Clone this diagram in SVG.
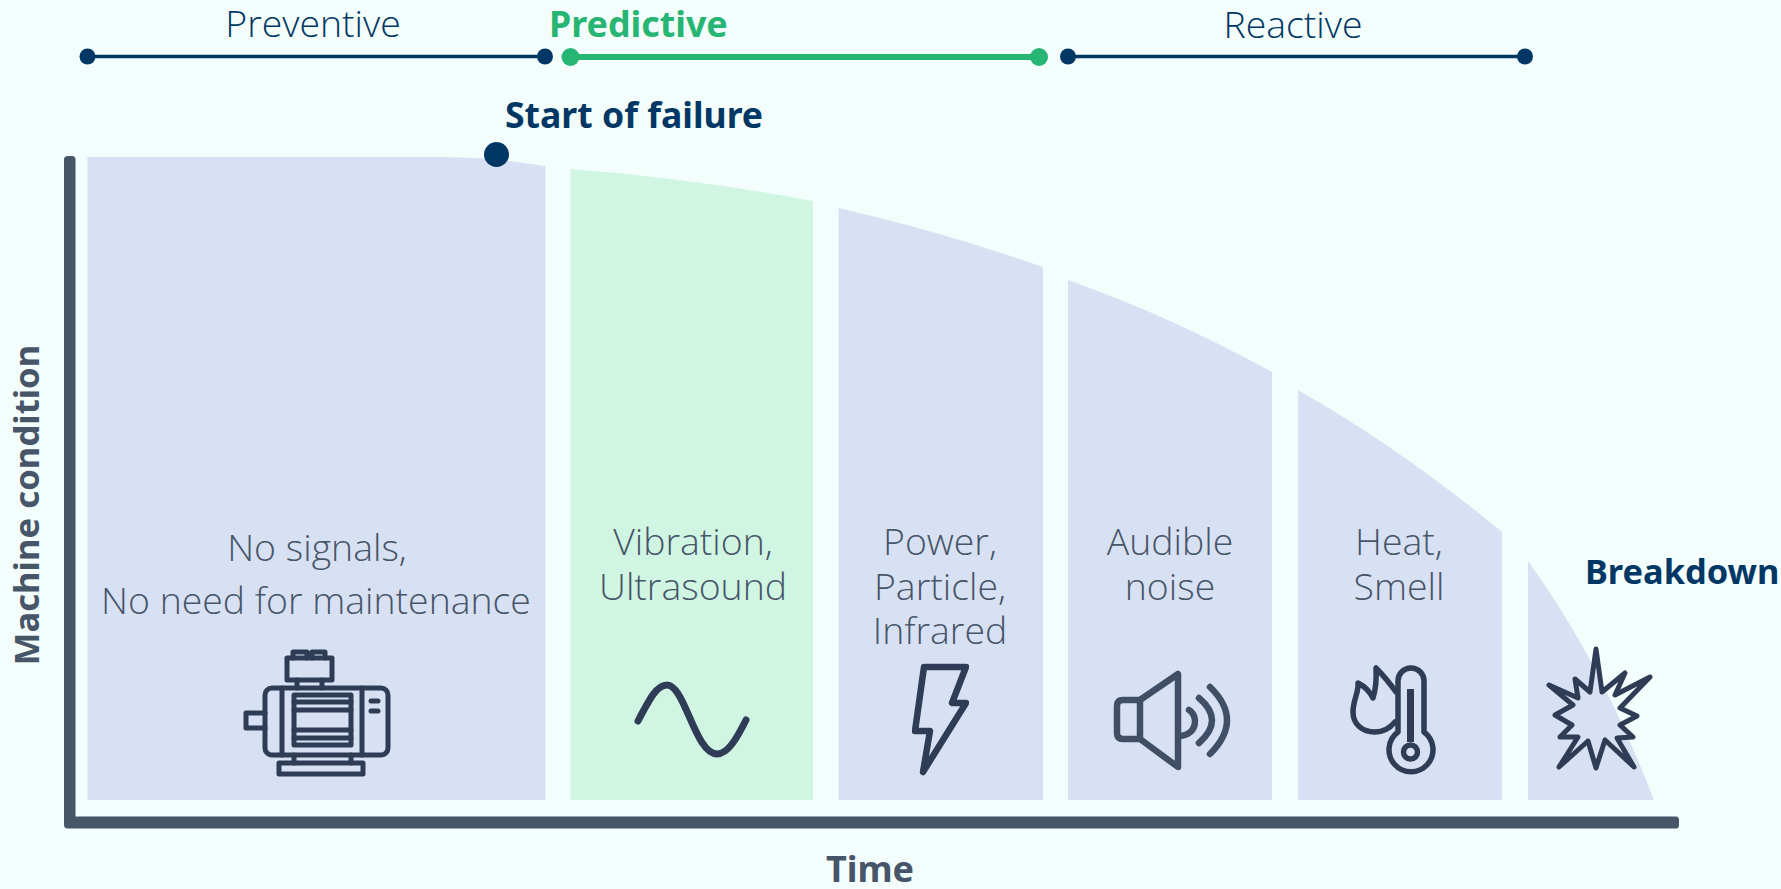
<svg xmlns="http://www.w3.org/2000/svg" width="1781" height="889" viewBox="0 0 1781 889">
<style>
.l{font-family:"Open Sans","Noto Sans",sans-serif;font-weight:300;text-anchor:middle}
.b{font-family:"Noto Sans","Open Sans",sans-serif;font-weight:700}
.h{font-size:37.400px;fill:#003764}
.t{font-size:37.400px;fill:#475569}
.bl{fill:#d8e1f3}
.gr{fill:#d0f5e2}
.n{fill:#003764}
.i{fill:none;stroke:#2e3d55;stroke-width:5;stroke-linejoin:round;stroke-linecap:round}
</style>
<defs><filter id="soft" x="-5%" y="-5%" width="110%" height="110%"><feGaussianBlur stdDeviation="0.500"/></filter></defs>
<rect width="1781" height="889" fill="#f3fdfb"/>
<g id="panels">
<path class="bl" d="M87.500 157H440Q490 157 545.500 166V800H87.500Z"/>
<path class="gr" d="M570.500 169Q690 178 813 201V800H570.500Z"/>
<path class="bl" d="M838.500 208Q940 231 1043 267V800H838.500Z"/>
<path class="bl" d="M1068 280Q1170 316 1272 372V800H1068Z"/>
<path class="bl" d="M1298 390Q1400 448 1502 532V800H1298Z"/>
<path class="bl" d="M1528 561Q1600 660 1654 800H1528Z"/>
</g>
<g id="axes" fill="#475569">
<path d="M68 156H72Q75.500 156 75.500 159.500V816.500H1676Q1679 816.500 1679 820V825Q1679 828.500 1676 828.500H68Q64 828.500 64 825V159.500Q64 156 68 156Z"/>
</g>
<g id="connectors">
<line x1="87" y1="56.500" x2="545" y2="56.500" stroke="#003764" stroke-width="3.500"/>
<line x1="570" y1="57" x2="1039" y2="57" stroke="#27b574" stroke-width="6"/>
<line x1="1068" y1="56.500" x2="1525" y2="56.500" stroke="#003764" stroke-width="3.500"/>
</g>
<g id="dots">
<circle class="n" cx="87.500" cy="56.500" r="8"/><circle class="n" cx="545" cy="56.500" r="8"/>
<circle cx="570.500" cy="57" r="9" fill="#27b574"/><circle cx="1039" cy="57" r="9" fill="#27b574"/>
<circle class="n" cx="1068" cy="56.500" r="8"/><circle class="n" cx="1525" cy="56.500" r="8"/>
<circle class="n" cx="496.500" cy="154.500" r="12.500"/>
</g>
<g id="headings">
<text class="l h" x="313" y="37">Preventive</text>
<text class="b" x="549" y="37" font-size="35.800" fill="#27b574">Predictive</text>
<text class="l h" x="1293" y="38">Reactive</text>
<text class="b" x="505" y="128" font-size="35.600" fill="#003764">Start of failure</text>
<text class="b" x="1585" y="584" font-size="34.400" fill="#003764">Breakdown</text>
<text class="b" x="870" y="882" font-size="36" fill="#475569" text-anchor="middle">Time</text>
<text class="b" transform="translate(39 505) rotate(-90)" font-size="34.700" fill="#475569" text-anchor="middle">Machine condition</text>
</g>
<g id="motor">
<text class="l t" x="317" y="561">No signals,</text>
<text class="l t" x="316" y="614">No need for maintenance</text>
<g class="i" filter="url(#soft)">
<path d="M293 658V652H307V658M312 658V652H325V658"/>
<rect x="287" y="658" width="45" height="22"/>
<path d="M297 680V688M322 680V688"/>
<rect x="265" y="688" width="123" height="67" rx="7"/>
<path d="M282 688V755M362 688V755"/>
<rect x="294" y="695" width="57" height="50"/>
<path d="M294 702H351M294 710H351M294 730H351M294 738H351M371 701H378M371 711H378"/>
<path d="M265 713H246V728H265"/>
<path d="M294 755V763M351 755V763"/>
<rect x="279" y="763" width="84" height="11"/>
</g>
</g>
<g id="vibration">
<text class="l t" x="693" y="555">Vibration,</text>
<text class="l t" x="693" y="600">Ultrasound</text>
<path class="i" filter="url(#soft)" style="stroke-width:7" d="M638 721C650 698 657 685 667 685C685 685 695 754 717 754C728 754 737 738 746 720"/>
</g>
<g id="power">
<text class="l t" x="940" y="555">Power,</text>
<text class="l t" x="940" y="600">Particle,</text>
<text class="l t" x="940" y="644">Infrared</text>
<path class="i" filter="url(#soft)" style="stroke-width:6.500" d="M924 667H966L952 703H966L923 772L930 731H915Z"/>
</g>
<g id="noise">
<text class="l t" x="1170" y="555">Audible</text>
<text class="l t" x="1170" y="600">noise</text>
<g class="i" filter="url(#soft)" style="stroke:#3f4f66;stroke-width:6.500">
<path d="M1140 700H1123Q1117 700 1117 706V733Q1117 739 1123 739H1140Z"/>
<path d="M1140 700L1178 674V767L1140 739"/>
<path d="M1189 710C1199 716 1197 735 1180 736"/>
<path d="M1199 698Q1225 720 1199 743"/>
<path d="M1210 687Q1244 720 1210 754"/>
</g>
</g>
<g id="heat">
<text class="l t" x="1399" y="555">Heat,</text>
<text class="l t" x="1399" y="600">Smell</text>
<g class="i" filter="url(#soft)" style="stroke-width:5.500">
<path d="M1398 732V681A13 13 0 0 1 1424 681V732A22 22 0 1 1 1398 732Z"/>
<circle cx="1410.500" cy="752" r="7"/>
<path d="M1410.500 689V742" style="stroke-width:7;stroke-linecap:butt"/>
<path d="M1396 692Q1386 678 1376 668Q1377 685 1373 698Q1368 688 1358 683C1359 692 1353 700 1353 712C1353 724 1362 732 1375 732C1384 732 1390 728 1395 722"/>
</g>
</g>
<g id="breakdown">
<path class="i" filter="url(#soft)" style="stroke-width:5" d="M1596 649L1602 692L1625 673L1615 695L1650 677L1620 708L1637 716L1620 725L1633 737L1617 738L1634 767L1605 740L1596 768L1588 741L1559 767L1578 737L1560 737L1572 725L1555 715L1573 705L1549 685L1578 698L1575 679L1590 692Z"/>
</g>
</svg>
